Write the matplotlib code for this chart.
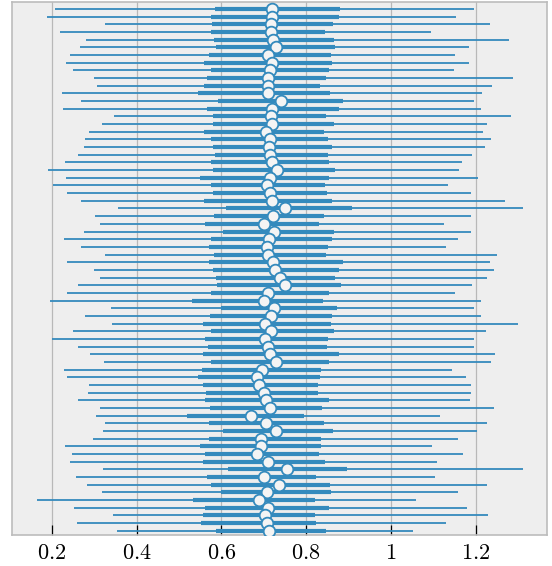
import numpy as np
import matplotlib
matplotlib.use("Agg")
import matplotlib.pyplot as plt

# values per row, listed from the top row down
hdi_low = [0.208, 0.190, 0.326, 0.220, 0.280, 0.267, 0.242, 0.233, 0.250, 0.300,
           0.306, 0.225, 0.270, 0.227, 0.348, 0.318, 0.288, 0.279, 0.276, 0.261,
           0.232, 0.192, 0.233, 0.202, 0.236, 0.268, 0.356, 0.302, 0.315, 0.276,
           0.228, 0.268, 0.326, 0.237, 0.299, 0.313, 0.262, 0.236, 0.197, 0.340,
           0.278, 0.343, 0.250, 0.201, 0.263, 0.291, 0.324, 0.228, 0.235, 0.288,
           0.286, 0.262, 0.315, 0.305, 0.325, 0.320, 0.297, 0.231, 0.247, 0.244,
           0.320, 0.258, 0.284, 0.319, 0.165, 0.252, 0.345, 0.260, 0.353]
hdi_high = [1.196, 1.153, 1.234, 1.094, 1.278, 1.184, 1.151, 1.184, 1.148, 1.288,
            1.239, 1.215, 1.197, 1.212, 1.282, 1.226, 1.218, 1.237, 1.222, 1.190,
            1.167, 1.161, 1.206, 1.135, 1.189, 1.269, 1.311, 1.188, 1.124, 1.189,
            1.158, 1.130, 1.250, 1.234, 1.242, 1.226, 1.192, 1.150, 1.212, 1.196,
            1.212, 1.299, 1.224, 1.196, 1.196, 1.245, 1.237, 1.145, 1.178, 1.189,
            1.189, 1.187, 1.244, 1.116, 1.226, 1.203, 1.158, 1.096, 1.169, 1.108,
            1.312, 1.105, 1.226, 1.159, 1.059, 1.179, 1.230, 1.131, 1.052]
q_low = [0.586, 0.576, 0.577, 0.575, 0.582, 0.588, 0.572, 0.559, 0.576, 0.566,
         0.560, 0.544, 0.592, 0.567, 0.580, 0.580, 0.560, 0.575, 0.580, 0.585,
         0.575, 0.581, 0.549, 0.575, 0.581, 0.560, 0.611, 0.583, 0.562, 0.605,
         0.575, 0.572, 0.583, 0.572, 0.581, 0.587, 0.590, 0.575, 0.530, 0.600,
         0.574, 0.556, 0.576, 0.562, 0.569, 0.556, 0.576, 0.554, 0.546, 0.557,
         0.564, 0.562, 0.574, 0.518, 0.572, 0.603, 0.571, 0.550, 0.562, 0.556,
         0.615, 0.567, 0.575, 0.599, 0.533, 0.562, 0.557, 0.552, 0.588]
q_high = [0.880, 0.877, 0.863, 0.844, 0.866, 0.869, 0.858, 0.860, 0.853, 0.848,
          0.833, 0.856, 0.886, 0.877, 0.848, 0.866, 0.842, 0.852, 0.860, 0.852,
          0.854, 0.869, 0.854, 0.844, 0.850, 0.861, 0.907, 0.842, 0.831, 0.865,
          0.862, 0.852, 0.847, 0.886, 0.878, 0.869, 0.882, 0.854, 0.840, 0.872,
          0.861, 0.859, 0.866, 0.852, 0.849, 0.877, 0.855, 0.835, 0.832, 0.828,
          0.827, 0.855, 0.837, 0.794, 0.841, 0.863, 0.835, 0.835, 0.831, 0.844,
          0.896, 0.823, 0.857, 0.859, 0.821, 0.853, 0.821, 0.823, 0.847]
median = [0.720, 0.719, 0.718, 0.716, 0.723, 0.729, 0.711, 0.719, 0.714, 0.710,
          0.711, 0.710, 0.741, 0.719, 0.716, 0.719, 0.705, 0.715, 0.713, 0.715,
          0.719, 0.731, 0.715, 0.707, 0.715, 0.719, 0.749, 0.722, 0.700, 0.725,
          0.712, 0.707, 0.710, 0.723, 0.726, 0.739, 0.750, 0.711, 0.701, 0.725,
          0.718, 0.704, 0.716, 0.702, 0.711, 0.715, 0.728, 0.696, 0.685, 0.690,
          0.701, 0.706, 0.715, 0.670, 0.705, 0.729, 0.694, 0.693, 0.685, 0.711,
          0.754, 0.700, 0.735, 0.708, 0.689, 0.711, 0.703, 0.707, 0.713]
xticks = [0.2, 0.4, 0.6, 0.8, 1.0, 1.2]

plt.style.use("bmh")
plt.rcParams["mathtext.fontset"] = "cm"

blue = "#348ABD"
n = len(median)
y = np.arange(n)[::-1]

fig = plt.figure(figsize=(5.52, 5.66), dpi=100)
ax = fig.add_axes([12 / 552, 31 / 566, 535 / 552, 533.5 / 566])

ax.hlines(y, hdi_low, hdi_high, color=blue, linewidth=1.3, zorder=2)
ax.hlines(y, q_low, q_high, color=blue, linewidth=3.0, zorder=3)
ax.plot(median, y, "o", color=blue, markerfacecolor="#f4f4f4",
        markersize=8.4, markeredgewidth=1.3, linestyle="none", zorder=4)

ax.set_xlim(0.1064, 1.368)
ax.set_ylim(-0.56, 68.98)
ax.set_xticks(xticks)
ax.set_xticklabels([f"${v:g}$" for v in xticks], fontsize=16)
ax.set_yticks([])
ax.grid(False)
ax.grid(True, axis="x", color="#b8b8b8", linestyle="-", linewidth=0.9)
ax.set_axisbelow(True)
ax.tick_params(axis="x", direction="in", length=7, width=0.9, color="black",
               pad=6, top=False)
for sp in ax.spines.values():
    sp.set_color("#bcbcbc")
    sp.set_linewidth(1.2)

fig.savefig("out.png", dpi=100)
